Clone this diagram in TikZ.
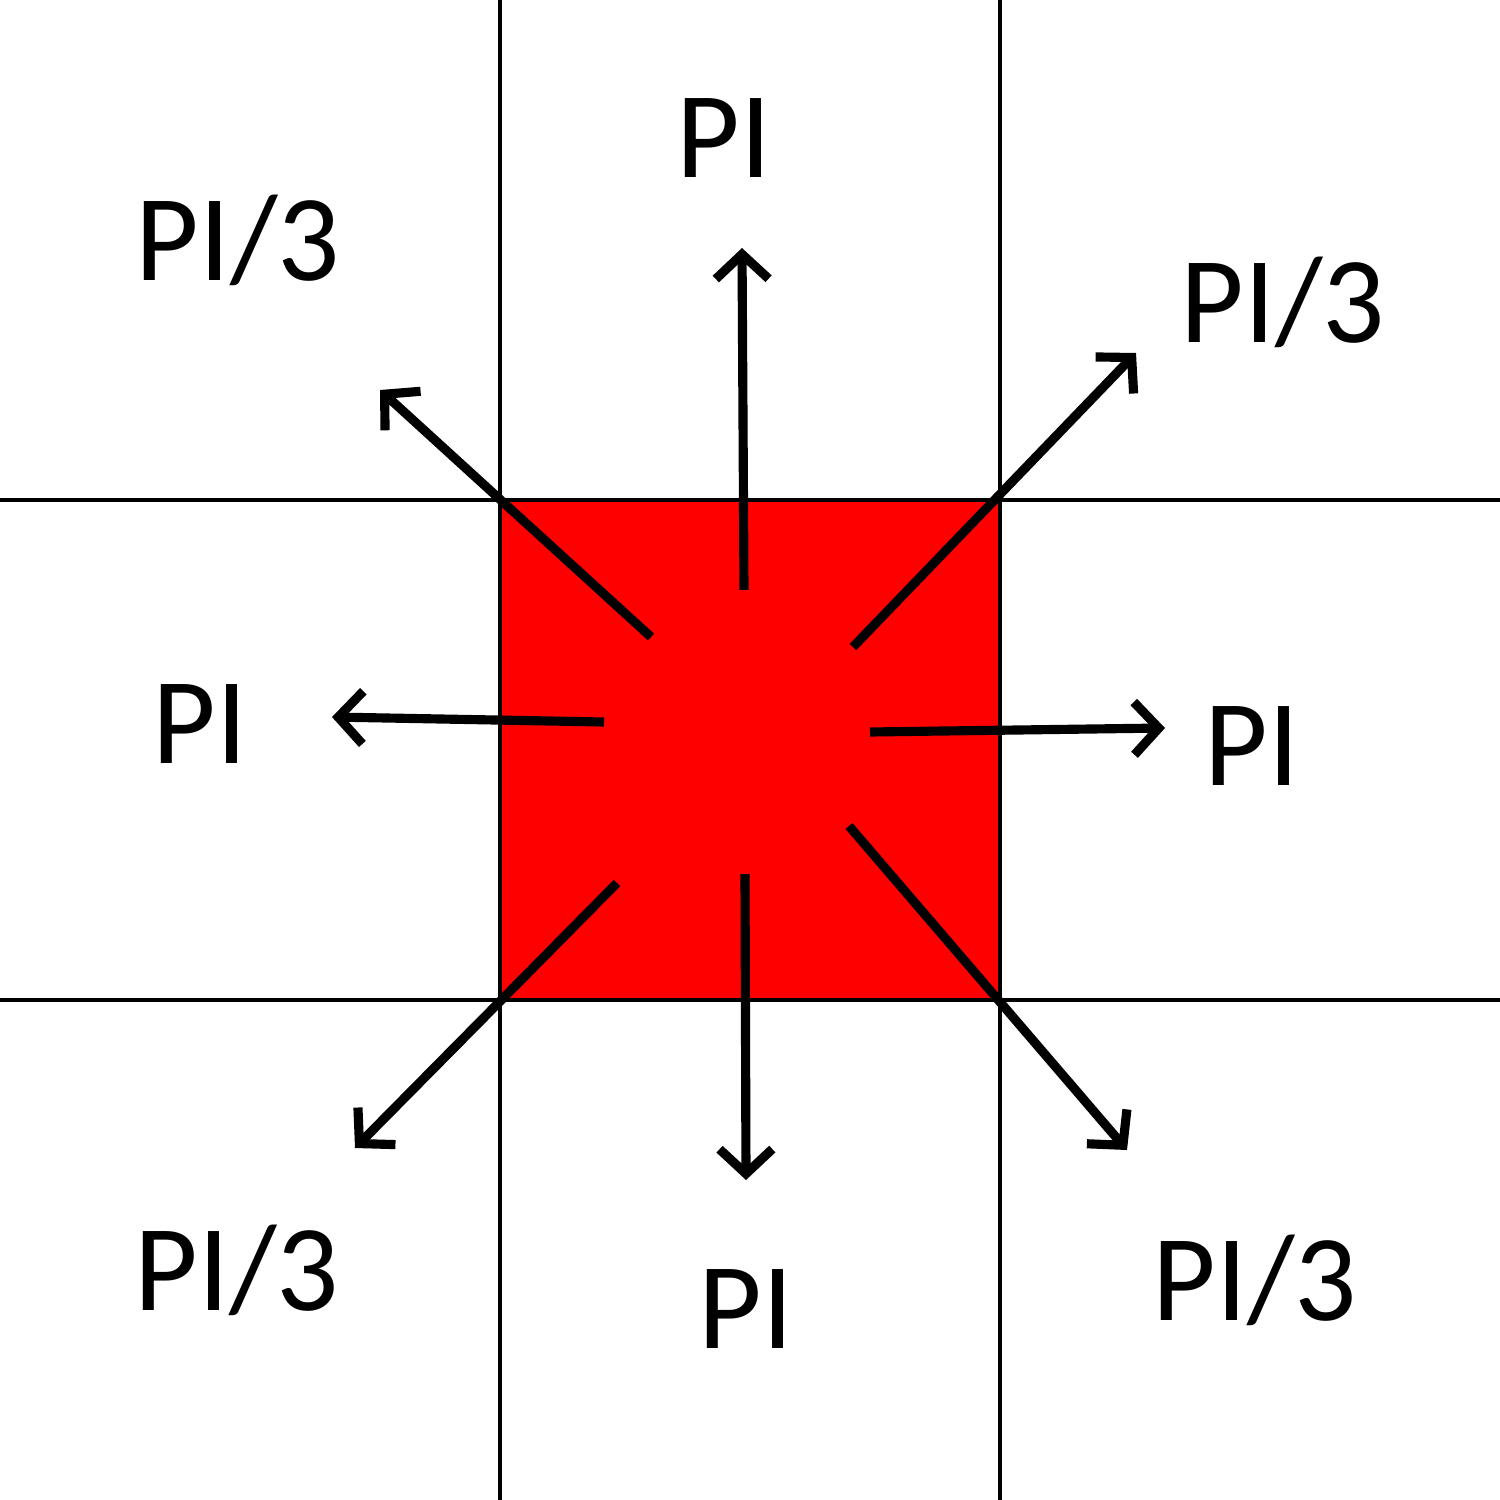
\documentclass[tikz,border=0pt]{standalone}
\usepackage{fontspec}
\setmainfont{Carlito}
\usetikzlibrary{arrows.meta}
\begin{document}
\begin{tikzpicture}[x=0.01cm,y=-0.01cm,
  gridline/.style={line width=1pt,black},
  arr/.style={line width=2.6pt,-{Straight Barb[length=7pt,width=15pt,line join=miter]}},
  lbl/.style={anchor=base,inner sep=0pt,font=\fontsize{35}{40}\selectfont}]
\useasboundingbox (0,0) rectangle (1500,1500);
\fill[white] (0,0) rectangle (1500,1500);
\node[draw=black,line width=1pt,fill=red,minimum size=500*0.01cm,inner sep=0pt,outer sep=0pt] (sq) at (750,750) {};
\draw[gridline] (0,500) -- (1500,500);
\draw[gridline] (0,1000) -- (1500,1000);
\draw[gridline] (500,0) -- (500,1500);
\draw[gridline] (1000,0) -- (1000,1500);
% arrow coordinates
\coordinate (nS) at (744,590);   \coordinate (nE) at (742,248);
\coordinate (neS) at (853,647);  \coordinate (neE) at (1136,353);
\coordinate (nwS) at (651,637);  \coordinate (nwE) at (380,390);
\coordinate (wS) at (604,722);   \coordinate (wE) at (332,717);
\coordinate (eS) at (870,732);   \coordinate (eE) at (1165,728);
\coordinate (swS) at (617,883);  \coordinate (swE) at (355,1148);
\coordinate (sS) at (745,874);   \coordinate (sE) at (746,1180);
\coordinate (seS) at (849,826);  \coordinate (seE) at (1127,1150);
\draw[arr] (nS) -- (nE);
\draw[arr] (neS) -- (neE);
\draw[arr] (nwS) -- (nwE);
\draw[arr] (wS) -- (wE);
\draw[arr] (eS) -- (eE);
\draw[arr] (swS) -- (swE);
\draw[arr] (sS) -- (sE);
\draw[arr] (seS) -- (seE);
% labels
\node[lbl] (lN) at (724,178) {PI};
\node[lbl] (lNW) at (238,280) {PI/3};
\node[lbl] (lNE) at (1283,342) {PI/3};
\node[lbl] (lW) at (200,763) {PI};
\node[lbl] (lE) at (1252,785) {PI};
\node[lbl] (lSW) at (237,1310) {PI/3};
\node[lbl] (lS) at (746,1348) {PI};
\node[lbl] (lSE) at (1255,1320) {PI/3};
\end{tikzpicture}
\end{document}
